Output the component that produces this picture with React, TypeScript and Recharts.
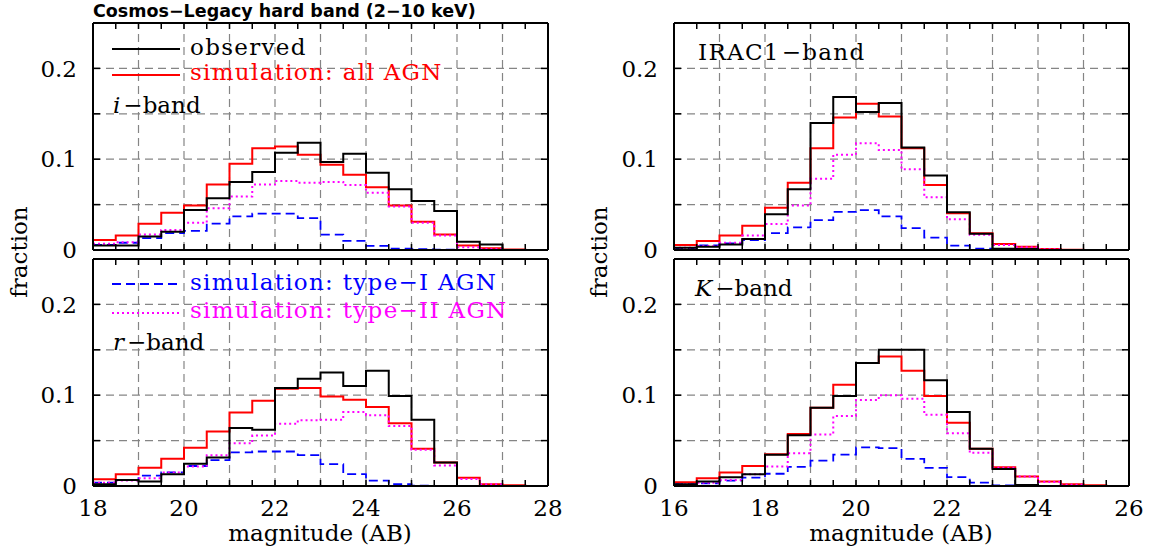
import React from 'react';
import { LineChart, Line, XAxis, YAxis, ReferenceLine } from 'recharts';

// bin left edges (0.5 mag bins)
const edgesOptical = [18, 18.5, 19, 19.5, 20, 20.5, 21, 21.5, 22, 22.5, 23, 23.5, 24, 24.5, 25, 25.5, 26, 26.5, 27, 27.5];
const edgesIR = [16, 16.5, 17, 17.5, 18, 18.5, 19, 19.5, 20, 20.5, 21, 21.5, 22, 22.5, 23, 23.5, 24, 24.5, 25, 25.5];

// i-band
const iObs = [0.005, 0.005, 0.015, 0.02, 0.044, 0.057, 0.075, 0.086, 0.107, 0.118, 0.097, 0.106, 0.085, 0.067, 0.054, 0.043, 0.009, 0.006, 0, 0];
const iAll = [0.011, 0.016, 0.029, 0.041, 0.049, 0.072, 0.095, 0.112, 0.114, 0.105, 0.094, 0.083, 0.069, 0.049, 0.031, 0.017, 0.005, 0.002, 0.0005, 0];
const iType1 = [0.0055, 0.008, 0.013, 0.0185, 0.021, 0.029, 0.037, 0.04, 0.04, 0.035, 0.017, 0.01, 0.0045, 0.0015, 0.001, 0.0005, 0, 0, 0, 0];
const iType2 = [0.007, 0.0085, 0.017, 0.022, 0.03, 0.046, 0.059, 0.072, 0.076, 0.074, 0.075, 0.0715, 0.063, 0.048, 0.03, 0.016, 0.003, 0.001, 0, 0];

// r-band
const rObs = [0.002, 0.0067, 0.005, 0.013, 0.0245, 0.0315, 0.064, 0.062, 0.108, 0.118, 0.125, 0.11, 0.127, 0.099, 0.073, 0.026, 0, 0, 0, 0];
const rAll = [0.0074, 0.013, 0.02, 0.03, 0.042, 0.06, 0.081, 0.094, 0.107, 0.108, 0.0985, 0.095, 0.087, 0.069, 0.041, 0.026, 0.009, 0.002, 0.0007, 0];
const rType1 = [0.0037, 0.0067, 0.0115, 0.015, 0.022, 0.0285, 0.037, 0.038, 0.038, 0.034, 0.024, 0.013, 0.006, 0.002, 0.0005, 0, 0, 0, 0, 0];
const rType2 = [0.0037, 0.006, 0.0085, 0.015, 0.0215, 0.034, 0.047, 0.0555, 0.0685, 0.0725, 0.073, 0.0815, 0.078, 0.066, 0.04, 0.0226, 0.0078, 0.002, 0, 0];

// IRAC1-band
const iracObs = [0.0025, 0.0035, 0.006, 0.012, 0.0395, 0.067, 0.14, 0.1685, 0.152, 0.162, 0.113, 0.082, 0.0415, 0.018, 0.0015, 0.001, 0, 0, 0, 0];
const iracAll = [0.0055, 0.01, 0.016, 0.0267, 0.0465, 0.074, 0.112, 0.146, 0.161, 0.147, 0.112, 0.0715, 0.0405, 0.0185, 0.0067, 0.0037, 0.001, 0.0004, 0, 0];
const iracType1 = [0.002, 0.005, 0.0074, 0.011, 0.0185, 0.025, 0.033, 0.042, 0.044, 0.037, 0.024, 0.0137, 0.0048, 0.0015, 0.0005, 0, 0, 0, 0, 0];
const iracType2 = [0.0026, 0.0044, 0.008, 0.016, 0.0285, 0.049, 0.0785, 0.105, 0.1175, 0.11, 0.089, 0.058, 0.034, 0.0167, 0.0055, 0.003, 0.0007, 0, 0, 0];

// K-band
const kObs = [0.002, 0.005, 0.0096, 0.013, 0.0344, 0.056, 0.0863, 0.099, 0.1355, 0.15, 0.15, 0.1165, 0.0815, 0.041, 0.0187, 0.001, 0, 0, 0, 0];
const kAll = [0.004, 0.0085, 0.0148, 0.022, 0.035, 0.0574, 0.0863, 0.1115, 0.1355, 0.1426, 0.127, 0.099, 0.0696, 0.041, 0.0207, 0.0104, 0.005, 0.002, 0.0007, 0];
const kType1 = [0.002, 0.003, 0.006, 0.0093, 0.0135, 0.021, 0.028, 0.0345, 0.0426, 0.0418, 0.0298, 0.02, 0.0098, 0.0038, 0.0007, 0, 0, 0, 0, 0];
const kType2 = [0.002, 0.0037, 0.0067, 0.013, 0.0215, 0.036, 0.0567, 0.077, 0.0946, 0.1, 0.096, 0.0785, 0.058, 0.0365, 0.02, 0.0104, 0.0045, 0.0015, 0, 0];

// axis ticks
const yTicks = [0, 0.05, 0.1, 0.15, 0.2];
const yLabels = [0, 0.1, 0.2];
const xTicksOptical = [18, 18.5, 19, 19.5, 20, 20.5, 21, 21.5, 22, 22.5, 23, 23.5, 24, 24.5, 25, 25.5, 26, 26.5, 27, 27.5, 28];
const xTicksIR = [16, 16.5, 17, 17.5, 18, 18.5, 19, 19.5, 20, 20.5, 21, 21.5, 22, 22.5, 23, 23.5, 24, 24.5, 25, 25.5, 26];
const xLabelsOptical = [18, 20, 22, 24, 26, 28];
const xLabelsIR = [16, 18, 20, 22, 24, 26];
const gridXOptical = [19, 20, 21, 22, 23, 24, 25, 26, 27];
const gridXIR = [17, 18, 19, 20, 21, 22, 23, 24, 25];
const gridY = [0.05, 0.1, 0.15, 0.2];

const PLOT_W = 455;
const PLOT_H = 227;
const PAD_L = 80;
const PAD_R = 22;
const PAD_T = 12;
const PAD_B = 50;

const FONT = 'DejaVu Serif';
const GRID = '#858585';

interface PanelProps {
  left: number;
  top: number;
  edges: number[];
  end: number;
  obs: number[];
  all: number[];
  t1: number[];
  t2: number[];
  xTicks: number[];
  xLabels: number[];
  gridX: number[];
  showX: boolean;
}

function Panel({ left, top, edges, end, obs, all, t1, t2, xTicks, xLabels, gridX, showX }: PanelProps) {
  const last = edges.length - 1;
  const rows = edges.map((m, i) => ({ m, obs: obs[i], all: all[i], t1: t1[i], t2: t2[i] }));
  rows.push({ m: end, obs: obs[last], all: all[last], t1: t1[last], t2: t2[last] });

  const axisLine = { stroke: '#000', strokeWidth: 2 };
  const tickLine = { stroke: '#000', strokeWidth: 1.5 };
  const tickStyle = { fill: '#000', fontSize: 23, fontFamily: FONT };

  return (
    <div style={{ position: 'absolute', left: left - PAD_L, top: top - PAD_T }}>
      <LineChart
        width={PAD_L + PLOT_W + PAD_R}
        height={PAD_T + PLOT_H + PAD_B}
        data={rows}
        margin={{ top: 0, right: 0, bottom: 0, left: 0 }}
      >
        <XAxis
          xAxisId="b"
          dataKey="m"
          type="number"
          domain={[edges[0], end]}
          allowDataOverflow
          ticks={xTicks}
          interval={0}
          height={PAD_B}
          tickSize={-6}
          tickMargin={20}
          axisLine={axisLine}
          tickLine={tickLine}
          tick={tickStyle}
          tickFormatter={(v: number) => (showX && xLabels.includes(v) ? String(v) : '')}
        />
        <XAxis
          xAxisId="t"
          dataKey="m"
          type="number"
          orientation="top"
          domain={[edges[0], end]}
          allowDataOverflow
          ticks={xTicks}
          interval={0}
          height={PAD_T}
          tickSize={-6}
          axisLine={axisLine}
          tickLine={tickLine}
          tick={tickStyle}
          tickFormatter={() => ''}
        />
        <YAxis
          yAxisId="l"
          type="number"
          domain={[0, 0.25]}
          allowDataOverflow
          ticks={yTicks}
          interval={0}
          width={PAD_L}
          tickSize={-7}
          tickMargin={23}
          axisLine={axisLine}
          tickLine={tickLine}
          tick={tickStyle}
          tickFormatter={(v: number) => (yLabels.includes(v) ? String(v) : '')}
        />
        <YAxis
          yAxisId="r"
          orientation="right"
          type="number"
          domain={[0, 0.25]}
          allowDataOverflow
          ticks={yTicks}
          interval={0}
          width={PAD_R}
          tickSize={-7}
          axisLine={axisLine}
          tickLine={tickLine}
          tick={tickStyle}
          tickFormatter={() => ''}
        />
        {gridX.map(v => (
          <ReferenceLine key={'gx' + v} xAxisId="b" yAxisId="l" x={v} stroke={GRID} strokeWidth={1.2} strokeDasharray="8 5" />
        ))}
        {gridY.map(v => (
          <ReferenceLine key={'gy' + v} xAxisId="b" yAxisId="l" y={v} stroke={GRID} strokeWidth={1.2} strokeDasharray="8 5" />
        ))}
        <Line xAxisId="b" yAxisId="l" dataKey="all" type="stepAfter" stroke="#ff0000" strokeWidth={2} dot={false} isAnimationActive={false} />
        <Line xAxisId="b" yAxisId="l" dataKey="t1" type="stepAfter" stroke="#0000ff" strokeWidth={1.8} strokeDasharray="9 5" dot={false} isAnimationActive={false} />
        <Line xAxisId="b" yAxisId="l" dataKey="t2" type="stepAfter" stroke="#ff00ff" strokeWidth={2} strokeDasharray="2 3" dot={false} isAnimationActive={false} />
        <Line xAxisId="b" yAxisId="l" dataKey="obs" type="stepAfter" stroke="#000000" strokeWidth={2} dot={false} isAnimationActive={false} />
      </LineChart>
    </div>
  );
}

export default function App() {
  const txt = { fontFamily: FONT, fontSize: 23 } as const;
  const leg = { fontFamily: FONT, fontSize: 23, letterSpacing: 1.3 } as const;
  return (
    <div style={{ position: 'absolute', left: 0, top: 0, width: 1153, height: 552, background: '#fff', overflow: 'hidden' }}>
      <Panel left={93} top={23} edges={edgesOptical} end={28} obs={iObs} all={iAll} t1={iType1} t2={iType2}
        xTicks={xTicksOptical} xLabels={xLabelsOptical} gridX={gridXOptical} showX={false} />
      <Panel left={93} top={259} edges={edgesOptical} end={28} obs={rObs} all={rAll} t1={rType1} t2={rType2}
        xTicks={xTicksOptical} xLabels={xLabelsOptical} gridX={gridXOptical} showX />
      <Panel left={674} top={23} edges={edgesIR} end={26} obs={iracObs} all={iracAll} t1={iracType1} t2={iracType2}
        xTicks={xTicksIR} xLabels={xLabelsIR} gridX={gridXIR} showX={false} />
      <Panel left={674} top={259} edges={edgesIR} end={26} obs={kObs} all={kAll} t1={kType1} t2={kType2}
        xTicks={xTicksIR} xLabels={xLabelsIR} gridX={gridXIR} showX />

      <svg width={1153} height={552} style={{ position: 'absolute', left: 0, top: 0, pointerEvents: 'none' }}>
        <text x={93} y={17} fontFamily="DejaVu Sans" fontWeight="bold" fontSize={17.5} fill="#000">
          Cosmos−Legacy hard band (2−10 keV)
        </text>

        <line x1={112} x2={180} y1={49} y2={49} stroke="#000" strokeWidth={2} />
        <text x={190} y={55} {...leg} fill="#000">observed</text>
        <line x1={112} x2={180} y1={75} y2={75} stroke="#ff0000" strokeWidth={2} />
        <text x={190} y={80} {...leg} fill="#ff0000">simulation: all AGN</text>
        <text x={113} y={113} {...txt} fill="#000"><tspan fontStyle="italic">i</tspan><tspan dx={3}>−band</tspan></text>

        <line x1={112} x2={180} y1={284} y2={284} stroke="#0000ff" strokeWidth={1.8} strokeDasharray="9 5" />
        <text x={190} y={290} {...leg} fill="#0000ff">simulation: type−I AGN</text>
        <line x1={112} x2={180} y1={313} y2={313} stroke="#ff00ff" strokeWidth={2} strokeDasharray="2 3" />
        <text x={190} y={318} {...leg} fill="#ff00ff">simulation: type−II AGN</text>
        <text x={113} y={350} {...txt} fill="#000"><tspan fontStyle="italic">r</tspan><tspan dx={3}>−band</tspan></text>

        <text x={698} y={60} {...leg} fill="#000">IRAC1<tspan dx={2}>−band</tspan></text>
        <text x={695} y={296} {...txt} fill="#000"><tspan fontStyle="italic">K</tspan><tspan dx={3}>−band</tspan></text>

        <text x={320} y={541} {...txt} textAnchor="middle" fill="#000">magnitude (AB)</text>
        <text x={901} y={541} {...txt} textAnchor="middle" fill="#000">magnitude (AB)</text>
        <text x={0} y={0} {...txt} textAnchor="middle" fill="#000" transform="translate(27 252) rotate(-90)">fraction</text>
        <text x={0} y={0} {...txt} textAnchor="middle" fill="#000" transform="translate(607 252) rotate(-90)">fraction</text>
      </svg>
    </div>
  );
}
